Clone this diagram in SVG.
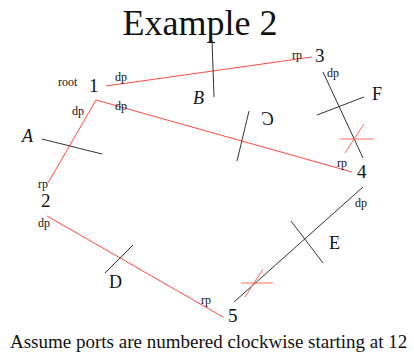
<svg xmlns="http://www.w3.org/2000/svg" width="414" height="356" viewBox="0 0 414 356">
<style>
text{font-family:"Liberation Serif","Times New Roman",serif;fill:#111}
.t{font-size:36px}
.n{font-size:19px}
.s{font-size:12px}
.l{font-size:18px}
.i{font-style:italic}
.f{font-size:19px}
.r{stroke:#ff4a3d;stroke-width:1;fill:none}
.rc{stroke:#ff6a5a;stroke-width:1;fill:none}
.k{stroke:#333;stroke-width:1;fill:none}
</style>
<rect width="414" height="356" fill="#fff"/>
<text class="t" x="200" y="35" text-anchor="middle">Example 2</text>
<g id="connectors">
<line class="r" x1="106" y1="86" x2="312" y2="57"/>
<line class="r" x1="96" y1="100" x2="352" y2="172"/>
<line class="r" x1="96" y1="100" x2="48" y2="183"/>
<line class="r" x1="47" y1="216" x2="223" y2="317"/>
<line class="k" x1="323" y1="72" x2="363" y2="158"/>
<line class="k" x1="363" y1="187" x2="234" y2="302"/>
</g>
<g id="cuts">
<g id="cutA"><line class="k" x1="42" y1="139" x2="102" y2="154"/><text class="l i" x="22" y="142">A</text></g>
<g id="cutB"><line class="k" x1="212" y1="40" x2="214" y2="97"/><text class="l i" x="193" y="104">B</text></g>
<g id="cutC"><line class="k" x1="249" y1="111" x2="237" y2="161"/><text class="l i" transform="translate(274,0) scale(-1,1)" x="0" y="125">C</text></g>
<g id="cutD"><line class="k" x1="133" y1="245" x2="105" y2="273"/><text class="l" x="109" y="288">D</text></g>
<g id="cutE"><line class="k" x1="291" y1="221" x2="323" y2="263"/><text class="l" x="329" y="249">E</text></g>
<g id="cutF"><line class="k" x1="317" y1="115" x2="364" y2="97"/><text class="l" x="372" y="100">F</text></g>
<g id="x4"><line class="rc" x1="340" y1="139" x2="374" y2="139"/><line class="rc" x1="345" y1="153" x2="364" y2="124"/></g>
<g id="x5"><line class="rc" x1="241" y1="283" x2="273" y2="283"/><line class="rc" x1="245" y1="297" x2="263" y2="269"/></g>
</g>
<g id="node1"><text class="s" x="58" y="86">root</text><text class="n" x="89" y="92">1</text><text class="s" x="115" y="81">dp</text><text class="s" x="115" y="110">dp</text><text class="s" x="72" y="115">dp</text></g>
<g id="node2"><text class="s" x="38" y="188">rp</text><text class="n" x="41" y="207">2</text><text class="s" x="38" y="227">dp</text></g>
<g id="node3"><text class="s" x="292" y="59">rp</text><text class="n" x="315" y="62">3</text><text class="s" x="327" y="77">dp</text></g>
<g id="node4"><text class="s" x="337" y="167">rp</text><text class="n" x="357" y="178">4</text><text class="s" x="355" y="207">dp</text></g>
<g id="node5"><text class="s" x="201" y="304">rp</text><text class="n" x="228" y="322">5</text></g>
<text class="f" x="10" y="348">Assume ports are numbered clockwise starting at 12</text>
</svg>
